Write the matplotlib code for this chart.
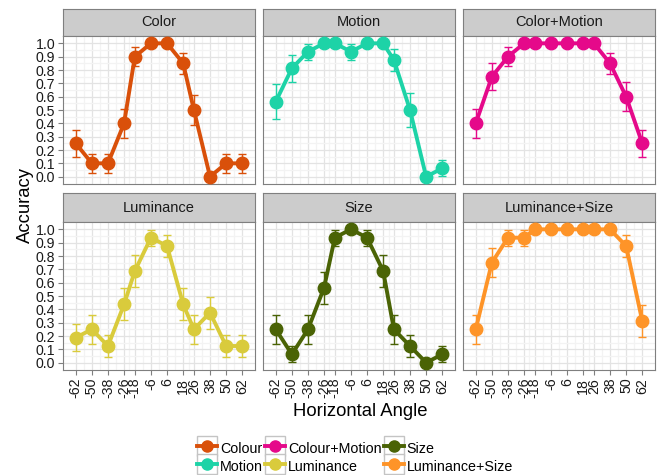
import matplotlib
matplotlib.use("Agg")
import matplotlib.pyplot as plt
from matplotlib.legend_handler import HandlerLine2D
from matplotlib.lines import Line2D
from matplotlib.patches import Rectangle
from matplotlib.ticker import FixedLocator

plt.rcParams['font.family'] = ['Liberation Sans', 'DejaVu Sans']

angles = [-62, -50, -38, -26, -18, -6, 6, 18, 26, 38, 50, 62]
minor_angles = [-56, -44, -32, -22, -12, 0, 12, 22, 32, 44, 56]
acc_ticks = [0.0, 0.1, 0.2, 0.3, 0.4, 0.5, 0.6, 0.7, 0.8, 0.9, 1.0]

conditions = ["Colour", "Motion", "Colour+Motion", "Luminance", "Size", "Luminance+Size"]
panel_titles = ["Color", "Motion", "Color+Motion", "Luminance", "Size", "Luminance+Size"]
colors = ["#D9500A", "#1DD3A7", "#E5098A", "#D9CB3C", "#4A6305", "#FE9428"]

colour_acc = [0.25, 0.10, 0.10, 0.40, 0.90, 1.00, 1.00, 0.85, 0.50, 0.00, 0.10, 0.10]
colour_se = [0.10, 0.07, 0.07, 0.11, 0.07, 0.00, 0.00, 0.08, 0.11, 0.00, 0.07, 0.07]

motion_acc = [0.5625, 0.8125, 0.9375, 1.00, 1.00, 0.9375, 1.00, 1.00, 0.875, 0.50, 0.00, 0.0625]
motion_se = [0.13, 0.10, 0.06, 0.00, 0.00, 0.06, 0.00, 0.00, 0.08, 0.13, 0.00, 0.06]

colmot_acc = [0.40, 0.75, 0.90, 1.00, 1.00, 1.00, 1.00, 1.00, 1.00, 0.85, 0.60, 0.25]
colmot_se = [0.11, 0.10, 0.07, 0.00, 0.00, 0.00, 0.00, 0.00, 0.00, 0.08, 0.11, 0.10]

lum_acc = [0.1875, 0.25, 0.125, 0.4375, 0.6875, 0.9375, 0.875, 0.4375, 0.25, 0.375, 0.125, 0.125]
lum_se = [0.10, 0.11, 0.08, 0.12, 0.12, 0.06, 0.08, 0.12, 0.11, 0.12, 0.08, 0.08]

size_acc = [0.25, 0.0625, 0.25, 0.5625, 0.9375, 1.00, 0.9375, 0.6875, 0.25, 0.125, 0.00, 0.0625]
size_se = [0.11, 0.06, 0.11, 0.12, 0.06, 0.00, 0.06, 0.12, 0.11, 0.08, 0.00, 0.06]

lumsize_acc = [0.25, 0.75, 0.9375, 0.9375, 1.00, 1.00, 1.00, 1.00, 1.00, 1.00, 0.875, 0.3125]
lumsize_se = [0.11, 0.11, 0.06, 0.06, 0.00, 0.00, 0.00, 0.00, 0.00, 0.00, 0.08, 0.12]

accs = [colour_acc, motion_acc, colmot_acc, lum_acc, size_acc, lumsize_acc]
ses = [colour_se, motion_se, colmot_se, lum_se, size_se, lumsize_se]

W, H = 657, 475
fig = plt.figure(figsize=(W / 100, H / 100), dpi=100)


def px_box(x0, y0, x1, y1):
    # pixel box (top-left origin) -> figure fraction rect
    return [x0 / W, 1 - y1 / H, (x1 - x0) / W, (y1 - y0) / H]


col_x = [63, 263, 463]
panel_w = 192
rows = [(9, 36, 184), (193, 222, 370)]  # strip top, panel top, panel bottom
border = "#7F7F7F"

for i in range(6):
    r, c = divmod(i, 3)
    st, pt, pb = rows[r]
    x0 = col_x[c]

    strip = fig.add_axes(px_box(x0, st, x0 + panel_w, pt))
    strip.set_facecolor("#CCCCCC")
    strip.set_xticks([])
    strip.set_yticks([])
    for s in strip.spines.values():
        s.set_color(border)
        s.set_linewidth(0.8)
    strip.text(0.5, 0.5, panel_titles[i], ha="center", va="center",
               fontsize=10.5, color="#1A1A1A", transform=strip.transAxes)

    ax = fig.add_axes(px_box(x0, pt, x0 + panel_w, pb))
    ax.set_facecolor("white")
    ax.set_xlim(-71.5, 71.5)
    ax.set_ylim(-0.055, 1.055)
    ax.xaxis.set_major_locator(FixedLocator(angles))
    ax.xaxis.set_minor_locator(FixedLocator(minor_angles))
    ax.yaxis.set_major_locator(FixedLocator(acc_ticks))
    ax.yaxis.set_minor_locator(FixedLocator([v + 0.05 for v in acc_ticks[:-1]]))
    ax.grid(which="major", color="#E3E3E3", linewidth=0.9)
    ax.grid(which="minor", color="#F3F3F3", linewidth=0.9)
    ax.set_axisbelow(True)
    for s in ax.spines.values():
        s.set_color(border)
        s.set_linewidth(0.8)
    ax.tick_params(which="minor", length=0)
    ax.tick_params(which="major", length=3.6, width=0.8, color=border,
                   labelsize=10.2, labelcolor="#1A1A1A", pad=2)

    if c == 0:
        ax.set_yticklabels([f"{v:.1f}" for v in acc_ticks])
    else:
        ax.tick_params(axis="y", which="major", length=0, labelleft=False)
    if r == 1:
        ax.set_xticklabels([str(a) for a in angles], rotation=90, va="top")
    else:
        ax.tick_params(axis="x", which="major", length=0, labelbottom=False)

    col = colors[i]
    ax.errorbar(angles, accs[i], yerr=ses[i], fmt="none", ecolor=col,
                elinewidth=1.0, capsize=2.9, capthick=1.0, zorder=2)
    ax.plot(angles, accs[i], color=col, linewidth=2.8, zorder=3)
    ax.plot(angles, accs[i], "o", color=col, markersize=9, zorder=4)

fig.text(25 / W, 1 - 205 / H, "Accuracy", rotation=90, ha="center", va="center",
         fontsize=13.3, color="black")
fig.text(360 / W, 1 - 411 / H, "Horizontal Angle", ha="center", va="center",
         fontsize=13.3, color="black")


class KeyHandler(HandlerLine2D):
    # legend key drawn on a white square with a light grey border
    def create_artists(self, legend, orig_handle, xdescent, ydescent,
                       width, height, fontsize, trans):
        arts = super().create_artists(legend, orig_handle, xdescent, ydescent,
                                      width, height, fontsize, trans)
        yc = (height - ydescent) / 2
        box = Rectangle((-xdescent, yc - width / 2), width, width,
                        facecolor="white", edgecolor="#C4C4C4", linewidth=1.0,
                        transform=trans, zorder=0)
        return [box] + arts


handles = [Line2D([0], [0], color=colors[i], linewidth=2.8, marker="o",
                  markersize=8) for i in range(6)]
leg = fig.legend(handles, conditions, ncol=3, loc="center",
                 bbox_to_anchor=(355 / W, 1 - 457 / H), frameon=False,
                 fontsize=10.3, handlelength=1.4, handleheight=1.4,
                 handletextpad=0.2, columnspacing=0.15, labelspacing=0.1,
                 borderpad=0, handler_map={Line2D: KeyHandler(numpoints=1)})

fig.savefig("out.png", dpi=100)
